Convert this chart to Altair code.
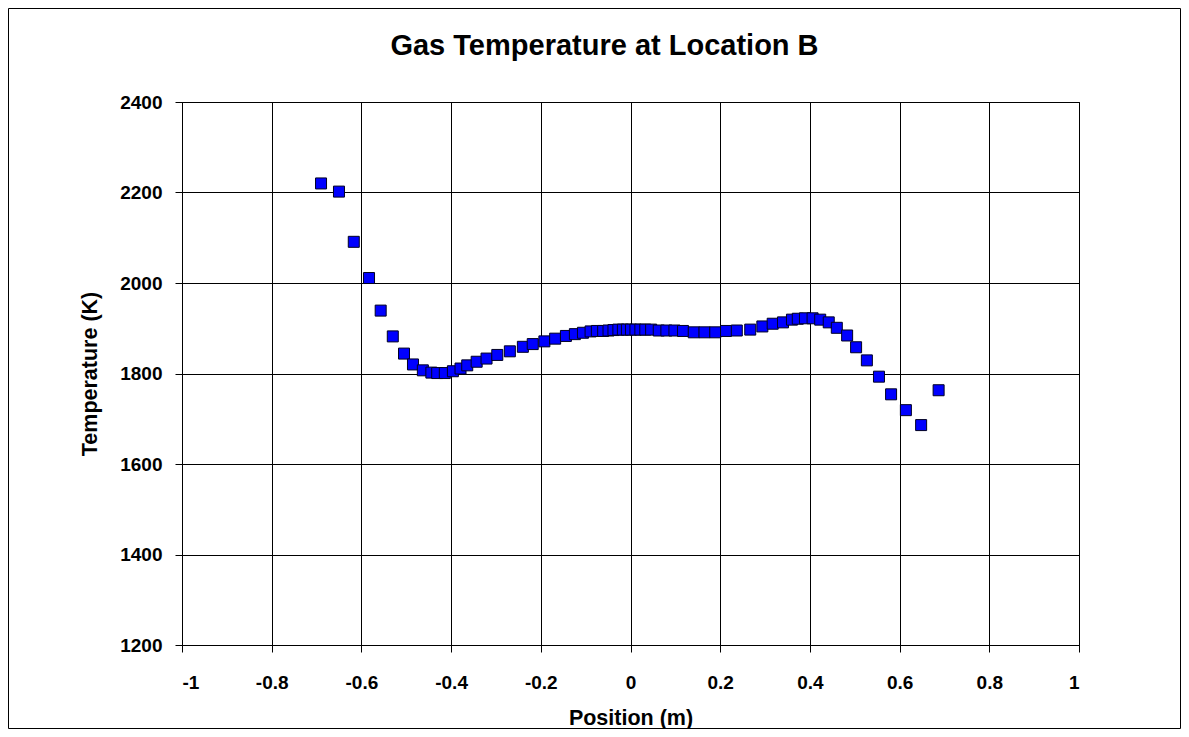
import altair as alt
import pandas as pd

position = [
    -0.690, -0.650, -0.617, -0.583, -0.557, -0.530, -0.505, -0.485, -0.463, -0.444,
    -0.431, -0.414, -0.396, -0.379, -0.364, -0.343, -0.321, -0.297, -0.269, -0.240,
    -0.218, -0.192, -0.168, -0.144, -0.124, -0.106, -0.089, -0.075, -0.061, -0.049,
    -0.038, -0.027, -0.017, -0.008, 0.001, 0.011, 0.022, 0.033, 0.046, 0.063,
    0.080, 0.098, 0.117, 0.141, 0.165, 0.189, 0.213, 0.237, 0.267, 0.294,
    0.317, 0.340, 0.360, 0.373, 0.389, 0.406, 0.423, 0.442, 0.460, 0.483,
    0.503, 0.527, 0.554, 0.581, 0.614, 0.648, 0.687,
]
temperature = [
    2220, 2202, 2091, 2011, 1939, 1882, 1844, 1820, 1807, 1802,
    1801, 1801, 1805, 1811, 1818, 1826, 1833, 1841, 1849, 1859,
    1865, 1871, 1877, 1883, 1887, 1890, 1893, 1894, 1894, 1895,
    1896, 1897, 1897, 1897, 1897, 1897, 1897, 1897, 1897, 1895,
    1895, 1895, 1894, 1891, 1891, 1891, 1894, 1895, 1897, 1904,
    1910, 1913, 1919, 1921, 1922, 1922, 1919, 1913, 1901, 1884,
    1858, 1829, 1793, 1754, 1719, 1686, 1763,
]
x_ticks = [-1, -0.8, -0.6, -0.4, -0.2, 0, 0.2, 0.4, 0.6, 0.8, 1]
y_ticks = [1200, 1400, 1600, 1800, 2000, 2200, 2400]

df = pd.DataFrame({"Position": position, "Temperature": temperature})
FONT = "Liberation Sans"

W, H = 897, 543
PAD = {"left": 174, "top": 94, "right": 102, "bottom": 84}

points = alt.Chart(df).mark_square(
    size=121, fill="#0000FF", stroke="#000022", strokeWidth=1, opacity=1
).encode(
    x=alt.X(
        "Position:Q",
        scale=alt.Scale(domain=[-1, 1], nice=False, zero=False),
        axis=alt.Axis(
            values=x_ticks, labelExpr="'' + datum.value", title="Position (m)",
            labelPadding=21, titleX=W / 2, titleY=73, titleBaseline="middle",
        ),
    ),
    y=alt.Y(
        "Temperature:Q",
        scale=alt.Scale(domain=[1200, 2400], nice=False, zero=False),
        axis=alt.Axis(
            values=y_ticks, format="d", title="Temperature (K)",
            labelPadding=13, titleX=-92, titleY=H / 2, titleBaseline="middle",
            titleAngle=270,
        ),
    ),
)

frame = alt.Chart(pd.DataFrame({"a": [0]})).mark_rect(
    fillOpacity=0, stroke="black", strokeWidth=1, clip=False
).encode(
    x=alt.value(-173.5), x2=alt.value(998.5),
    y=alt.value(-93.5), y2=alt.value(626.5),
)

chart = alt.layer(frame, points).properties(
    width=W, height=H,
    padding=PAD,
    autosize=alt.AutoSizeParams(type="none"),
    title=alt.TitleParams(
        "Gas Temperature at Location B", font=FONT, fontSize=29,
        fontWeight="bold", color="black", anchor="middle",
        baseline="alphabetic", offset=0, dy=75.5, dx=-26,
    ),
).configure_view(
    stroke="black", strokeWidth=1
).configure_axis(
    domainColor="black", domainWidth=1, gridColor="black", gridWidth=1,
    gridOpacity=1, tickColor="black", tickSize=7, tickWidth=1,
    labelFont=FONT, labelFontSize=19, labelFontWeight="bold", labelColor="black",
    titleFont=FONT, titleFontSize=21.5, titleFontWeight="bold", titleColor="black",
    labelOverlap=False,
)

chart.save("out.html", embed_options={"renderer": "svg", "actions": False})
